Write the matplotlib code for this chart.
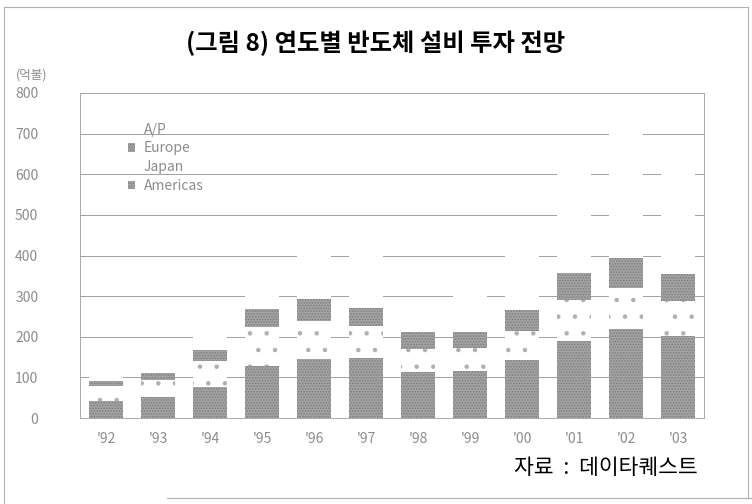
import numpy as np
import matplotlib.pyplot as plt
from matplotlib.patches import Patch
from matplotlib.lines import Line2D

plt.rcParams['font.family'] = ['Noto Sans CJK KR', 'DejaVu Sans']
plt.rcParams['hatch.linewidth'] = 0.8

years = ["'92", "'93", "'94", "'95", "'96", "'97", "'98", "'99", "'00", "'01", "'02", "'03"]
americas = [43, 52, 77, 128, 146, 147, 113, 115, 142, 189, 218, 202]
japan = [37, 42, 64, 96, 94, 80, 58, 57, 71, 101, 102, 85]
europe = [12, 17, 27, 44, 53, 44, 40, 39, 53, 67, 75, 67]
ap = [25, 35, 55, 75, 125, 135, 65, 100, 160, 260, 330, 280]

dark = '#a4a4a4'
grey_txt = '#8c8c8c'

fig = plt.figure(figsize=(7.52, 5.04), dpi=100)
ax = fig.add_axes([80 / 752, 1 - 418 / 504, 624 / 752, 325 / 504])

x = np.arange(len(years))
w = 0.64
b1 = np.array(americas)
b2 = b1 + np.array(japan)
b3 = b2 + np.array(europe)

ax.bar(x, americas, w, color=dark, edgecolor='#7d7d7d', hatch='......', linewidth=0, zorder=2)
ax.bar(x, japan, w, bottom=b1, color='white', edgecolor='#b0b0b0', hatch='.', linewidth=0, zorder=2)
ax.bar(x, europe, w, bottom=b2, color=dark, edgecolor='#7d7d7d', hatch='......', linewidth=0, zorder=2)
ax.bar(x, ap, w, bottom=b3, color='white', linewidth=0, zorder=2)

ax.set_xlim(-0.5, 11.5)
ax.set_ylim(0, 800)
ax.set_yticks(range(0, 801, 100))
ax.set_xticks(x)
ax.set_xticklabels(years)
ax.yaxis.grid(True, color='#a0a0a0', linewidth=0.7, zorder=1)
ax.set_axisbelow(True)
ax.tick_params(axis='both', length=0, labelcolor=grey_txt, labelsize=10)
ax.tick_params(axis='y', pad=30)
ax.tick_params(axis='x', pad=10)
for s in ax.spines.values():
    s.set_color('#a8a8a8')
    s.set_linewidth(0.7)

handles = [Patch(facecolor='white', edgecolor='none'),
           Patch(facecolor=dark, edgecolor='#7d7d7d', hatch='......', linewidth=0),
           Patch(facecolor='white', edgecolor='none'),
           Patch(facecolor=dark, edgecolor='#7d7d7d', hatch='......', linewidth=0)]
labels = ['A/P', 'Europe', 'Japan', 'Americas']
ax.legend(handles, labels, loc='upper left', bbox_to_anchor=(122 / 752, 1 - 117 / 504),
          bbox_transform=fig.transFigure, frameon=False, fontsize=10,
          labelcolor=grey_txt, handlelength=0.55, handleheight=0.55,
          handletextpad=0.6, labelspacing=0.35, borderaxespad=0)

fig.text(376 / 752, 1 - 43 / 504, '(그림 8) 연도별 반도체 설비 투자 전망',
         ha='center', va='center', fontsize=17.5, fontweight='bold')
fig.text(16 / 752, 1 - 75 / 504, '(억불)', ha='left', va='center', fontsize=9, color=grey_txt)
fig.text(698 / 752, 1 - 468 / 504, '자료  :  데이타퀘스트', ha='right', va='center', fontsize=15.5)

# scanned page frame
fc = '#b0b0b0'
fig.add_artist(Line2D([4 / 752, 748 / 752], [1 - 7 / 504, 1 - 7 / 504], color=fc, lw=0.8))
fig.add_artist(Line2D([4 / 752, 4 / 752], [1 - 7 / 504, 0], color=fc, lw=0.8))
fig.add_artist(Line2D([748 / 752, 748 / 752], [1 - 7 / 504, 1 - 498 / 504], color=fc, lw=0.8))
fig.add_artist(Line2D([167 / 752, 752 / 752], [1 - 498 / 504, 1 - 498 / 504], color=fc, lw=0.8))

fig.savefig('out.png', dpi=100)
